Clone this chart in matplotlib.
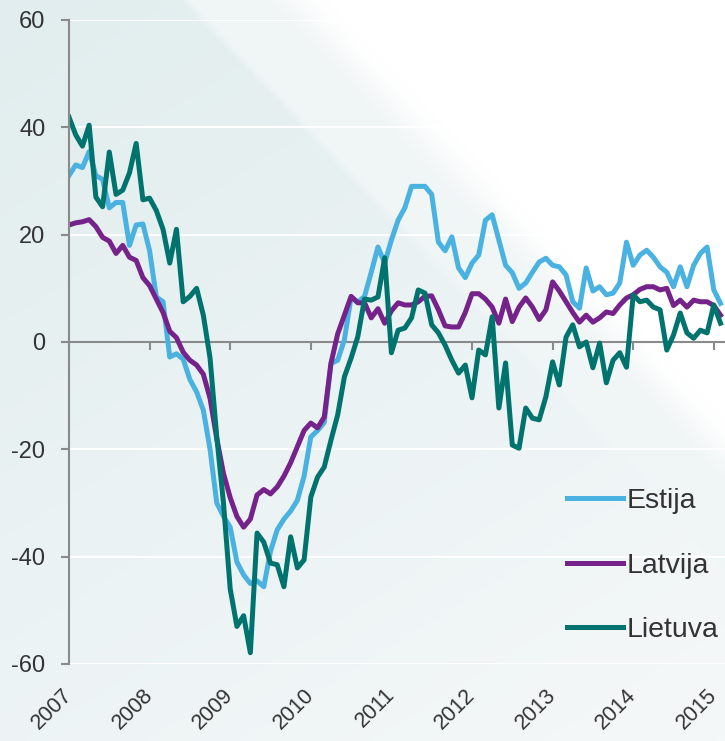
import numpy as np
import matplotlib as mpl
mpl.use("Agg")
import matplotlib.pyplot as plt

# monthly values, Jan 2007 - Feb 2015
estija = [31, 33, 32.5, 35.5, 31, 30.3, 25, 26, 26, 18, 21.8, 22,
          17, 8.4, 7.5, -2.8, -2.2, -3.2, -7, -9.3, -12.7, -20, -30, -32.5,
          -34.5, -41, -43.4, -45, -44.5, -45.6, -39, -35, -33, -31.5, -29.5, -25,
          -17.7, -16.5, -15, -4, -3.4, 0.4, 8.4, 7.4, 8.5, 13, 17.7, 14.7,
          19, 22.7, 25, 29, 29, 29, 27.5, 18.6, 17, 19.6, 13.8, 12,
          14.7, 16.2, 22.7, 23.7, 19, 14.3, 12.9, 10, 11, 13, 14.9, 15.6,
          14.3, 14, 12.5, 7.5, 6.3, 13.8, 9.5, 10.3, 8.8, 9.1, 11, 18.6,
          14.3, 16.2, 17.1, 15.8, 14, 13, 10.3, 14, 10.3, 14.3, 16.5, 17.7,
          9.7, 7.2]
latvija = [21.8, 22.2, 22.4, 22.8, 21.5, 19.5, 18.8, 16.5, 18, 15.8, 15.2, 12,
           10.5, 8, 5.5, 2, 0.8, -1.9, -3.4, -4.3, -6, -10.5, -18, -24.5,
           -29, -32.5, -34.5, -33, -28.5, -27.5, -28.3, -27, -25, -22.5, -19.5, -16.5,
           -15.1, -16, -14, -4, 1.5, 5, 8.5, 7.3, 7.3, 4.5, 6.2, 3.5,
           5.8, 7.3, 6.9, 6.9, 7.5, 8.5, 8.6, 6, 3, 2.8, 2.8, 5.5,
           9, 9, 8, 6.5, 3.5, 8, 3.8, 6.5, 8.2, 6.5, 4.2, 6,
           11.2, 9.5, 7.5, 5.5, 3.7, 5, 3.7, 4.5, 5.6, 5.3, 6.9, 8.2,
           8.8, 9.8, 10.3, 10.3, 9.7, 10, 6.8, 7.8, 6.5, 7.8, 7.5, 7.5,
           6.8, 5]
lietuva = [41.9, 38.6, 36.5, 40.4, 27, 25.2, 35.4, 27.5, 28.3, 31.5, 37, 26.5,
           26.8, 24.5, 21, 14.7, 21, 7.5, 8.5, 10, 5, -3, -17.7, -30,
           -46, -53, -51, -57.9, -35.6, -37.3, -41.2, -41.5, -45.6, -36.3, -42.1, -40.6,
           -28.9, -25.2, -23.3, -18.3, -13.6, -6.5, -3, 1, 8, 7.8, 8.4, 15.7,
           -2, 2.2, 2.6, 4.5, 9.7, 9.1, 3.2, 1.7, -0.6, -3.4, -5.8, -4.3,
           -10.4, -1.5, -2.4, 4.7, -12.3, -3.9, -19.2, -19.8, -12.3, -14.2, -14.5, -10.2,
           -3.7, -8, 0.9, 3.2, -0.9, 0, -4.8, -0.2, -7.6, -3.4, -2, -4.7,
           8.8, 7.5, 7.8, 6.5, 6, -1.5, 1.3, 5.4, 1.7, 0.7, 2.2, 1.7,
           6.9, 3.5]
years = list(range(2007, 2016))
yticks = [-60, -40, -20, 0, 20, 40, 60]

months = 2007 + np.arange(len(estija)) / 12

plt.rcParams['font.family'] = ['Liberation Sans', 'DejaVu Sans']
plt.rcParams['axes.unicode_minus'] = False

fig = plt.figure(figsize=(7.25, 7.41), dpi=100)

# background: pale blue-grey, lighter band, then white sheen in upper right
H, W = 741, 725
yy, xx = np.mgrid[0:H, 0:W]
base = np.array([225, 237, 238]) / 255
light = np.array([245, 248, 249]) / 255
mid = np.array([240, 245, 246]) / 255
s = np.clip((xx * 0.5 + yy * 0.8) / 950, 0, 1)[..., None]
bgc = base * (1 - s) + light * s

def smooth(v):
    v = np.clip(v, 0, 1)[..., None]
    return v * v * (3 - 2 * v)

t1 = smooth((xx - 183 - 0.95 * yy + 6) / 14)
bgc = bgc * (1 - t1) + mid * t1
t2 = smooth((xx - 287 - 0.95 * yy + 30) / 70)
bgc = bgc * (1 - t2) + t2
bg = fig.add_axes([0, 0, 1, 1], zorder=-1)
bg.imshow(bgc, aspect='auto')
bg.axis('off')

ax = fig.add_axes([69 / 725, 1 - 664 / 741, 1 - 69 / 725, (664 - 20) / 741])
ax.set_facecolor('none')

ax.plot(months, estija, color='#4ab2e0', lw=3.6, label='Estija', solid_joinstyle='round')
ax.plot(months, latvija, color='#75228a', lw=3.6, label='Latvija', solid_joinstyle='round')
ax.plot(months, lietuva, color='#00736e', lw=3.6, label='Lietuva', solid_joinstyle='round')

ax.set_xlim(2007, 2007 + (725 - 69) / 80.6)
ax.set_ylim(-60, 60)
ax.set_yticks(yticks)
for v in yticks:
    if v != 0:
        ax.axhline(v, color='white', lw=1.5, zorder=0)

for side in ['top', 'right']:
    ax.spines[side].set_visible(False)
ax.spines['left'].set_color('#8a8a8a')
ax.spines['left'].set_linewidth(1.5)
ax.spines['bottom'].set_position(('data', 0))
ax.spines['bottom'].set_color('#8a8a8a')
ax.spines['bottom'].set_linewidth(1.5)
ax.spines['bottom'].set_zorder(1)

ax.set_xticks(years)
ax.tick_params(axis='x', length=6, width=1.5, color='#8a8a8a', labelbottom=False)
ax.tick_params(axis='y', length=6, width=1.5, color='#8a8a8a', labelsize=17,
               labelcolor='#333333', pad=11)

sec = ax.secondary_xaxis('bottom')
sec.set_xticks(years)
sec.set_xticklabels([str(y) for y in years], rotation=45, ha='right', va='center',
                    rotation_mode='anchor', fontsize=15.5, color='#333333')
sec.tick_params(length=0, pad=20)
sec.spines['bottom'].set_visible(False)

ax.legend(loc='upper left', bbox_to_anchor=(567 / 725, 1 - 488 / 741),
          bbox_transform=fig.transFigure, frameon=False, fontsize=20.5,
          handlelength=1.95, handletextpad=0.15, labelspacing=1.36,
          borderpad=0, borderaxespad=0, labelcolor='#333333')

fig.savefig('out.png', dpi=100)
